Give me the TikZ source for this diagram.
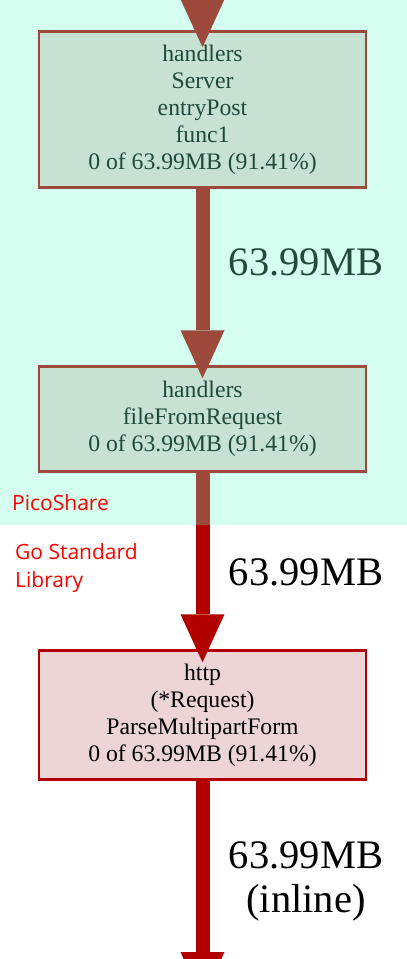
\documentclass[tikz,border=0pt]{standalone}
\usepackage{fontspec}
\setmainfont{Liberation Serif}
\newfontfamily\labelfont{Open Sans}
\usetikzlibrary{arrows.meta}
\definecolor{edgered}{HTML}{B20000}
\definecolor{nodefill}{HTML}{EDD5D5}
\definecolor{mintover}{RGB}{107,255,207}
\definecolor{clusterred}{HTML}{FF0000}
\tikzset{
  fnode/.style={draw=edgered, fill=nodefill, line width=2.7pt, outer sep=0pt, inner sep=0pt,
    minimum width=327pt, align=center, text=black, font=\fontsize{23.7}{27}\selectfont},
  flow/.style={draw=edgered, line width=14pt,
    -{Triangle[width=44pt,length=48pt,line width=0pt]}},
  flowlabel/.style={inner sep=0pt, align=center, text=black, font=\fontsize{40.5}{44}\selectfont},
  clusterlabel/.style={inner sep=0pt, align=left, text=clusterred, font=\labelfont\fontsize{21}{28}\selectfont}
}
\begin{document}
\begin{tikzpicture}[x=1pt,y=-1pt]
\useasboundingbox (0,0) rectangle (407,959);
\clip (0,0) rectangle (407,959);
\fill[white] (0,0) rectangle (407,959);
% nodes
\node[fnode, minimum height=156.5pt] (n1) at (202.5,109.5) {handlers\\Server\\entryPost\\func1\\0 of 63.99MB (91.41\%)};
\node[fnode, minimum height=105.5pt] (n2) at (202.5,419) {handlers\\fileFromRequest\\0 of 63.99MB (91.41\%)};
\node[fnode, minimum height=129.5pt] (n3) at (202.5,715) {http\\(*Request)\\ParseMultipartForm\\0 of 63.99MB (91.41\%)};
\coordinate (top) at (202.5,-20);
\coordinate (bottom) at (202.5,1000);
% connectors
\draw[flow] (top) -- ([yshift=-16pt]n1.north);
\draw[flow] (n1.south) -- ([yshift=-12pt]n2.north);
\draw[flow] (n2.south) -- ([yshift=-12pt]n3.north);
\draw[flow] (n3.south) -- (bottom);
% edge labels
\node[flowlabel, anchor=base] (l1) at (306,275) {63.99MB};
\node[flowlabel, anchor=base] (l2) at (306,585) {63.99MB};
\node[flowlabel, anchor=center] (l3) at (306,881) {63.99MB\\(inline)};
% cluster overlay
\fill[mintover, fill opacity=0.29] (0,0) rectangle (407,525);
\node[clusterlabel, anchor=base west] (c1) at (12,510) {PicoShare};
\node[clusterlabel, anchor=north west] (c2) at (15,543) {Go Standard\\Library};
\end{tikzpicture}
\end{document}
